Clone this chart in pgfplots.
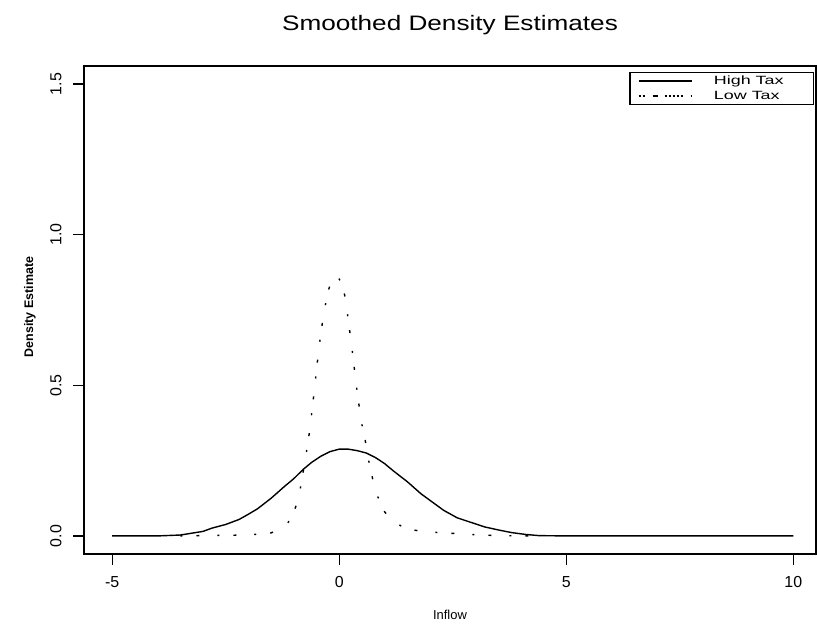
\documentclass[border=0pt]{standalone}
\usepackage{fontspec}
\setmainfont{Liberation Sans}
\newfontfamily\widefont[FakeStretch=1.25]{Liberation Sans}
\newfontfamily\legfont[FakeStretch=1.5]{Liberation Sans}
\usepackage{pgfplots}
\pgfplotsset{compat=1.18}

\begin{document}
\begin{tikzpicture}
\begin{axis}[
    scale only axis,
    width=732bp, height=488bp,
    xmin=-5.62, xmax=10.5,
    ymin=-0.06, ymax=1.56,
    axis line style={line width=1.4bp},
    xtick={-5,0,5,10}, xticklabels={-5,0,5,10},
    ytick={0,0.5,1,1.5}, yticklabels={0.0,0.5,1.0,1.5},
    xtick pos=lower, ytick pos=left,
    tick align=outside, major tick length=11bp,
    tick style={line width=1.2bp, black},
    ticklabel style={font=\fontsize{16}{18}\selectfont},
    xticklabel shift=8bp,
    yticklabel shift=8bp,
    yticklabel style={rotate=90, anchor=south},
    title={Smoothed Density Estimates},
    title style={font=\widefont\fontsize{21}{24}\selectfont,
        at={(axis description cs:0.5,1.0717)}, anchor=center},
    xlabel={Inflow},
    xlabel style={font=\fontsize{13}{15}\selectfont,
        at={(axis description cs:0.5,-0.125)}, anchor=center},
    ylabel={Density Estimate},
    ylabel style={font=\bfseries\fontsize{12.5}{14}\selectfont,
        at={(axis description cs:-0.0738,0.506)}, anchor=center},
    legend cell align=left,
    legend image code/.code={\draw[#1] (0bp,0bp) -- (53bp,0bp);},
    legend style={at={(axis description cs:1,1)}, anchor=north east,
        xshift=-2bp, yshift=-6bp, draw=black, line width=1.2bp,
        inner xsep=8bp, inner ysep=1bp, row sep=0bp,
        font=\legfont\fontsize{12}{14}\selectfont,
        nodes={inner sep=1.5bp, text height=9bp, text depth=3bp},
        /tikz/every odd column/.append style={column sep=20bp}},
]

% High Tax
\addplot[black, line width=1.4bp] coordinates {
(-5,0) (-4,0) (-3.5,0.003) (-3,0.015) (-2.8,0.026) (-2.5,0.038) (-2.2,0.055)
(-2,0.072) (-1.8,0.09) (-1.5,0.125) (-1.2,0.165) (-1,0.19) (-0.8,0.22)
(-0.6,0.245) (-0.4,0.265) (-0.2,0.28) (0,0.288) (0.2,0.288) (0.4,0.283)
(0.6,0.275) (0.8,0.26) (1.0,0.24) (1.2,0.215) (1.5,0.18) (1.8,0.14)
(2.0,0.118) (2.3,0.085) (2.6,0.06) (2.9,0.045) (3.2,0.03) (3.5,0.02)
(3.8,0.011) (4.1,0.005) (4.4,0.001) (5,0) (10,0)
};
\addlegendentry{\makebox[90bp][l]{High Tax}}

% Low Tax
\addplot[black, line width=1.4bp, dash pattern=on 2bp off 14bp on 3bp off 18bp,
    legend image code/.code={\draw[black, line width=1.4bp,
      dash pattern=on 2bp off 2bp on 2bp off 8bp on 5bp off 7bp on 2bp off 2bp on 2bp off 2bp on 2bp off 2bp]
      (0bp,0bp) -- (53bp,0bp);}] coordinates {
(-3.5,0) (-3,0.001) (-2.5,0.002) (-2,0.003) (-1.5,0.01) (-1.2,0.03)
(-1.05,0.06) (-0.9,0.12) (-0.75,0.25) (-0.65,0.35) (-0.55,0.48)
(-0.45,0.62) (-0.35,0.73) (-0.25,0.81) (-0.15,0.855) (-0.05,0.865)
(0.05,0.84) (0.12,0.8) (0.18,0.74) (0.24,0.67) (0.3,0.6) (0.36,0.52)
(0.42,0.45) (0.5,0.37) (0.57,0.32) (0.65,0.25) (0.75,0.18) (0.85,0.13)
(1.0,0.08) (1.2,0.045) (1.45,0.027) (1.7,0.018) (2.0,0.013) (2.3,0.01)
(2.7,0.007) (3.0,0.004) (3.5,0.001) (4.3,0)
};
\addlegendentry{\makebox[90bp][l]{Low Tax}}
\end{axis}
\pgfresetboundingbox
\path (-84bp,-77bp) rectangle (733bp,554bp);
\end{tikzpicture}
\end{document}
